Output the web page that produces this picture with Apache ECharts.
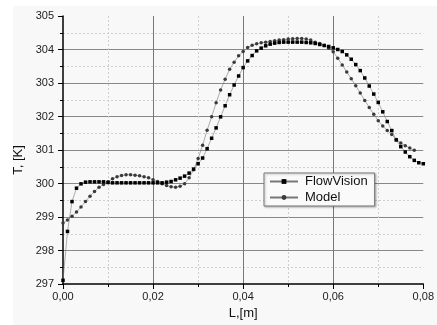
<!DOCTYPE html>
<html>
<head>
<meta charset="utf-8">
<script src="https://cdn.jsdelivr.net/npm/echarts@6/dist/echarts.min.js"></script>
<style>
  html, body { margin: 0; padding: 0; background: #fff; }
  #chart { width: 437px; height: 325px; }
</style>
</head>
<body>
<div id="chart"></div>
<script>
// L, [m] positions of the FlowVision points
const flowLength = [
  0.000, 0.001, 0.002, 0.003, 0.004, 0.005, 0.006, 0.007, 0.008, 0.009,
  0.010, 0.011, 0.012, 0.013, 0.014, 0.015, 0.016, 0.017, 0.018, 0.019,
  0.020, 0.021, 0.022, 0.023, 0.024, 0.025, 0.026, 0.027, 0.028, 0.029,
  0.030, 0.031, 0.032, 0.033, 0.034, 0.035, 0.036, 0.037, 0.038, 0.039,
  0.040, 0.041, 0.042, 0.043, 0.044, 0.045, 0.046, 0.047, 0.048, 0.049,
  0.050, 0.051, 0.052, 0.053, 0.054, 0.055, 0.056, 0.057, 0.058, 0.059,
  0.060, 0.061, 0.062, 0.063, 0.064, 0.065, 0.066, 0.067, 0.068, 0.069,
  0.070, 0.071, 0.072, 0.073, 0.074, 0.075, 0.076, 0.077, 0.078, 0.079,
  0.080
];
const flowTemp = [
  297.11, 298.57, 299.46, 299.86, 299.99, 300.04, 300.05, 300.05, 300.05, 300.05,
  300.03, 300.02, 300.02, 300.02, 300.02, 300.02, 300.02, 300.02, 300.02, 300.02,
  300.02, 300.02, 300.02, 300.04, 300.06, 300.11, 300.16, 300.22, 300.31, 300.43,
  300.59, 300.76, 301.04, 301.35, 301.66, 301.99, 302.32, 302.65, 302.94, 303.21,
  303.46, 303.66, 303.82, 303.96, 304.04, 304.11, 304.16, 304.19, 304.21, 304.22,
  304.22, 304.22, 304.22, 304.22, 304.21, 304.20, 304.18, 304.15, 304.12, 304.09,
  304.05, 304.00, 303.94, 303.84, 303.71, 303.55, 303.37, 303.15, 302.91, 302.67,
  302.42, 302.14, 301.85, 301.58, 301.30, 301.10, 300.94, 300.80, 300.69, 300.62,
  300.59
];

// L, [m] positions of the Model points
const modelLength = [
  0.000, 0.001, 0.002, 0.003, 0.004, 0.005, 0.006, 0.007, 0.008, 0.009,
  0.010, 0.011, 0.012, 0.013, 0.014, 0.015, 0.016, 0.017, 0.018, 0.019,
  0.020, 0.021, 0.022, 0.023, 0.024, 0.025, 0.026, 0.027, 0.028, 0.029,
  0.030, 0.031, 0.032, 0.033, 0.034, 0.035, 0.036, 0.037, 0.038, 0.039,
  0.040, 0.041, 0.042, 0.043, 0.044, 0.045, 0.046, 0.047, 0.048, 0.049,
  0.050, 0.051, 0.052, 0.053, 0.054, 0.055, 0.056, 0.057, 0.058, 0.059,
  0.060, 0.061, 0.062, 0.063, 0.064, 0.065, 0.066, 0.067, 0.068, 0.069,
  0.070, 0.071, 0.072, 0.073, 0.074, 0.075, 0.076, 0.077, 0.078
];
const modelTemp = [
  298.82, 298.91, 299.02, 299.15, 299.30, 299.46, 299.62, 299.76, 299.89, 299.97,
  300.05, 300.14, 300.20, 300.24, 300.26, 300.26, 300.25, 300.23, 300.20, 300.17,
  300.11, 300.06, 299.99, 299.94, 299.90, 299.89, 299.92, 299.99, 300.17, 300.41,
  300.75, 301.14, 301.59, 301.99, 302.41, 302.79, 303.11, 303.41, 303.62, 303.81,
  303.94, 304.06, 304.13, 304.17, 304.20, 304.22, 304.24, 304.26, 304.28, 304.29,
  304.31, 304.32, 304.33, 304.33, 304.31, 304.28, 304.22, 304.18, 304.12, 304.04,
  303.93, 303.74, 303.54, 303.33, 303.13, 302.92, 302.70, 302.48, 302.27, 302.07,
  301.87, 301.72, 301.58, 301.46, 301.31, 301.21, 301.13, 301.06, 300.99
];

const chart = echarts.init(document.getElementById('chart'));

const pair = (xs, ys) => xs.map((x, i) => [x, ys[i]]);
const font = '"Liberation Sans", Arial, sans-serif';

const option = {
  animation: false,
  textStyle: { fontFamily: font },
  graphic: [{
    type: 'rect',
    left: 13, top: 6,
    shape: { width: 424, height: 319 },
    style: { fill: '#f8f8f8' },
    z: -10, silent: true
  }],
  grid: { left: 63, right: 9, top: 16, bottom: 40.5, containLabel: false },
  legend: {
    orient: 'vertical',
    left: 264, top: 173,
    itemWidth: 28, itemHeight: 6, itemGap: 3,
    padding: [2, 7, 2, 5],
    backgroundColor: '#fafafa',
    borderColor: '#777', borderWidth: 1,
    shadowColor: 'rgba(0,0,0,0.25)', shadowBlur: 2, shadowOffsetX: 1, shadowOffsetY: 1,
    textStyle: { fontSize: 13, color: '#111', fontFamily: font, padding: [0, 0, 0, 2] },
    data: ['FlowVision', 'Model']
  },
  xAxis: {
    type: 'value', min: 0, max: 0.08, interval: 0.02,
    name: 'L,[m]', nameLocation: 'middle', nameGap: 23,
    nameTextStyle: { fontSize: 13, color: '#111' },
    axisLine: { show: true, onZero: false, lineStyle: { color: '#000', width: 1.5 } },
    axisTick: { show: true, inside: false, length: 5, lineStyle: { color: '#000' } },
    minorTick: { show: true, splitNumber: 2, length: 3, lineStyle: { color: '#000' } },
    axisLabel: {
      fontSize: 11, color: '#222', margin: 7,
      formatter: v => v.toFixed(2).replace('.', ',')
    },
    splitLine: { show: true, showMinLine: false, showMaxLine: false, lineStyle: { color: '#777', width: 1 } },
    minorSplitLine: { show: true, lineStyle: { color: '#cfcfcf', type: [2, 2], width: 1 } }
  },
  yAxis: {
    type: 'value', min: 297, max: 305, interval: 1,
    name: 'T, [K]', nameLocation: 'middle', nameGap: 34, nameRotate: 90,
    nameTextStyle: { fontSize: 13, color: '#111', padding: [0, 20, 0, 0] },
    axisLine: { show: true, onZero: false, lineStyle: { color: '#000', width: 1.5 } },
    axisTick: { show: true, inside: false, length: 5, lineStyle: { color: '#000' } },
    minorTick: { show: true, splitNumber: 2, length: 3, lineStyle: { color: '#000' } },
    axisLabel: { fontSize: 11, color: '#222', margin: 9 },
    splitLine: { show: true, showMinLine: false, showMaxLine: false, lineStyle: { color: '#888', width: 1 } },
    minorSplitLine: { show: true, lineStyle: { color: '#cfcfcf', type: [2, 2], width: 1 } }
  },
  series: [
    {
      name: 'FlowVision',
      type: 'line',
      data: pair(flowLength, flowTemp),
      symbol: 'rect', symbolSize: 3.5, showAllSymbol: true,
      itemStyle: { color: '#000' },
      lineStyle: { color: '#777', width: 0.6 },
      z: 3
    },
    {
      name: 'Model',
      type: 'line',
      data: pair(modelLength, modelTemp),
      symbol: 'circle', symbolSize: 3.5, showAllSymbol: true,
      itemStyle: { color: '#3a3a3a' },
      lineStyle: { color: '#777', width: 0.6 },
      z: 2
    }
  ]
};

chart.setOption(option);
</script>
</body>
</html>
